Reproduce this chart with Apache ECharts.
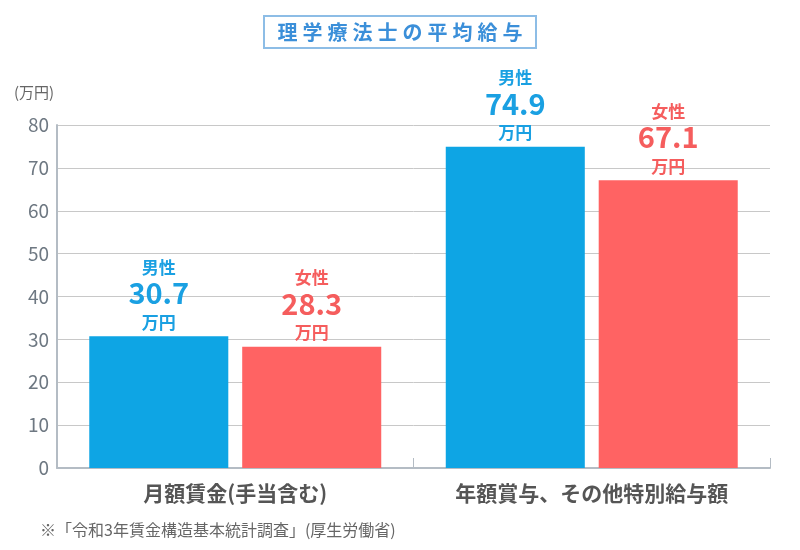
<!DOCTYPE html>
<html><head><meta charset="utf-8">
<script src="https://cdn.jsdelivr.net/npm/echarts@6/dist/echarts.min.js"></script>
<style>html,body{margin:0;padding:0;background:#fff}#c{width:800px;height:550px}</style>
</head><body><div id="c"></div>
<script>
const categories = ['月額賃金(手当含む)', '年額賞与、その他特別給与額'];
const maleValues = [30.7, 74.9];
const femaleValues = [28.3, 67.1];
const seriesNames = ['男性', '女性'];
const yTicks = { min: 0, max: 80, interval: 10 };
const titleText = '理学療法士の平均給与';

const font = '"Noto Sans CJK JP", "Noto Sans", sans-serif';
const blue = '#0ea5e4';
const red = '#ff6363';

function mkLabel(color) {
  return {
    show: true, position: 'top', distance: 3,
    formatter: '{n|{a}}\n{v|{c}}\n{u|万円}',
    rich: {
      n: { fontFamily: font, fontSize: 17, fontWeight: 'bold', color: color, lineHeight: 16 },
      v: { fontFamily: font, fontSize: 29, fontWeight: 'bold', color: color, lineHeight: 36 },
      u: { fontFamily: font, fontSize: 17, fontWeight: 'bold', color: color, lineHeight: 22 }
    }
  };
}

const chart = echarts.init(document.getElementById('c'));
chart.setOption({
  backgroundColor: '#fff',
  animation: false,
  title: {
    text: titleText.split('').map(function (ch) { return '{s|' + ch + '}'; }).join(''),
    left: 'center', top: 14,
    padding: [6, 11, 6, 11],
    borderColor: '#8dbde6', borderWidth: 2,
    textStyle: {
      rich: { s: { fontFamily: font, fontSize: 20, fontWeight: 'bold', color: '#3b8fd9', padding: [0, 2.5, 0, 2.5], lineHeight: 24 } }
    }
  },
  graphic: [
    { type: 'text', left: 14, top: 85, style: { text: '(万円)', fontFamily: font, fontSize: 15, fill: '#666' } },
    { type: 'text', left: 40, top: 522, style: { text: '※「令和3年賃金構造基本統計調査」(厚生労働省)', fontFamily: font, fontSize: 16, fill: '#666' } }
  ],
  grid: { left: 57, right: 30, top: 125, bottom: 82, containLabel: false },
  xAxis: {
    type: 'category', data: categories,
    axisLine: { lineStyle: { color: '#b4bcc4', width: 2 } },
    axisTick: { show: true, inside: true, length: 10, lineStyle: { color: '#b4bcc4', width: 1 } },
    axisLabel: { fontFamily: font, fontSize: 21, fontWeight: 'bold', color: '#555', margin: 15 }
  },
  yAxis: {
    type: 'value', min: yTicks.min, max: yTicks.max, interval: yTicks.interval,
    axisLine: { show: true, lineStyle: { color: '#b4bcc4', width: 2 } },
    axisTick: { show: false },
    axisLabel: { fontFamily: font, fontSize: 19, color: '#6e7882', margin: 8 },
    splitLine: { lineStyle: { color: '#c8c8c8', width: 1 } }
  },
  series: [
    { name: seriesNames[0], type: 'bar', data: maleValues, barWidth: '39%', barGap: '10%',
      itemStyle: { color: blue }, label: mkLabel('#1aa0e2') },
    { name: seriesNames[1], type: 'bar', data: femaleValues, barWidth: '39%', barGap: '10%',
      itemStyle: { color: red }, label: mkLabel('#f55d5d') }
  ]
});
</script></body></html>
